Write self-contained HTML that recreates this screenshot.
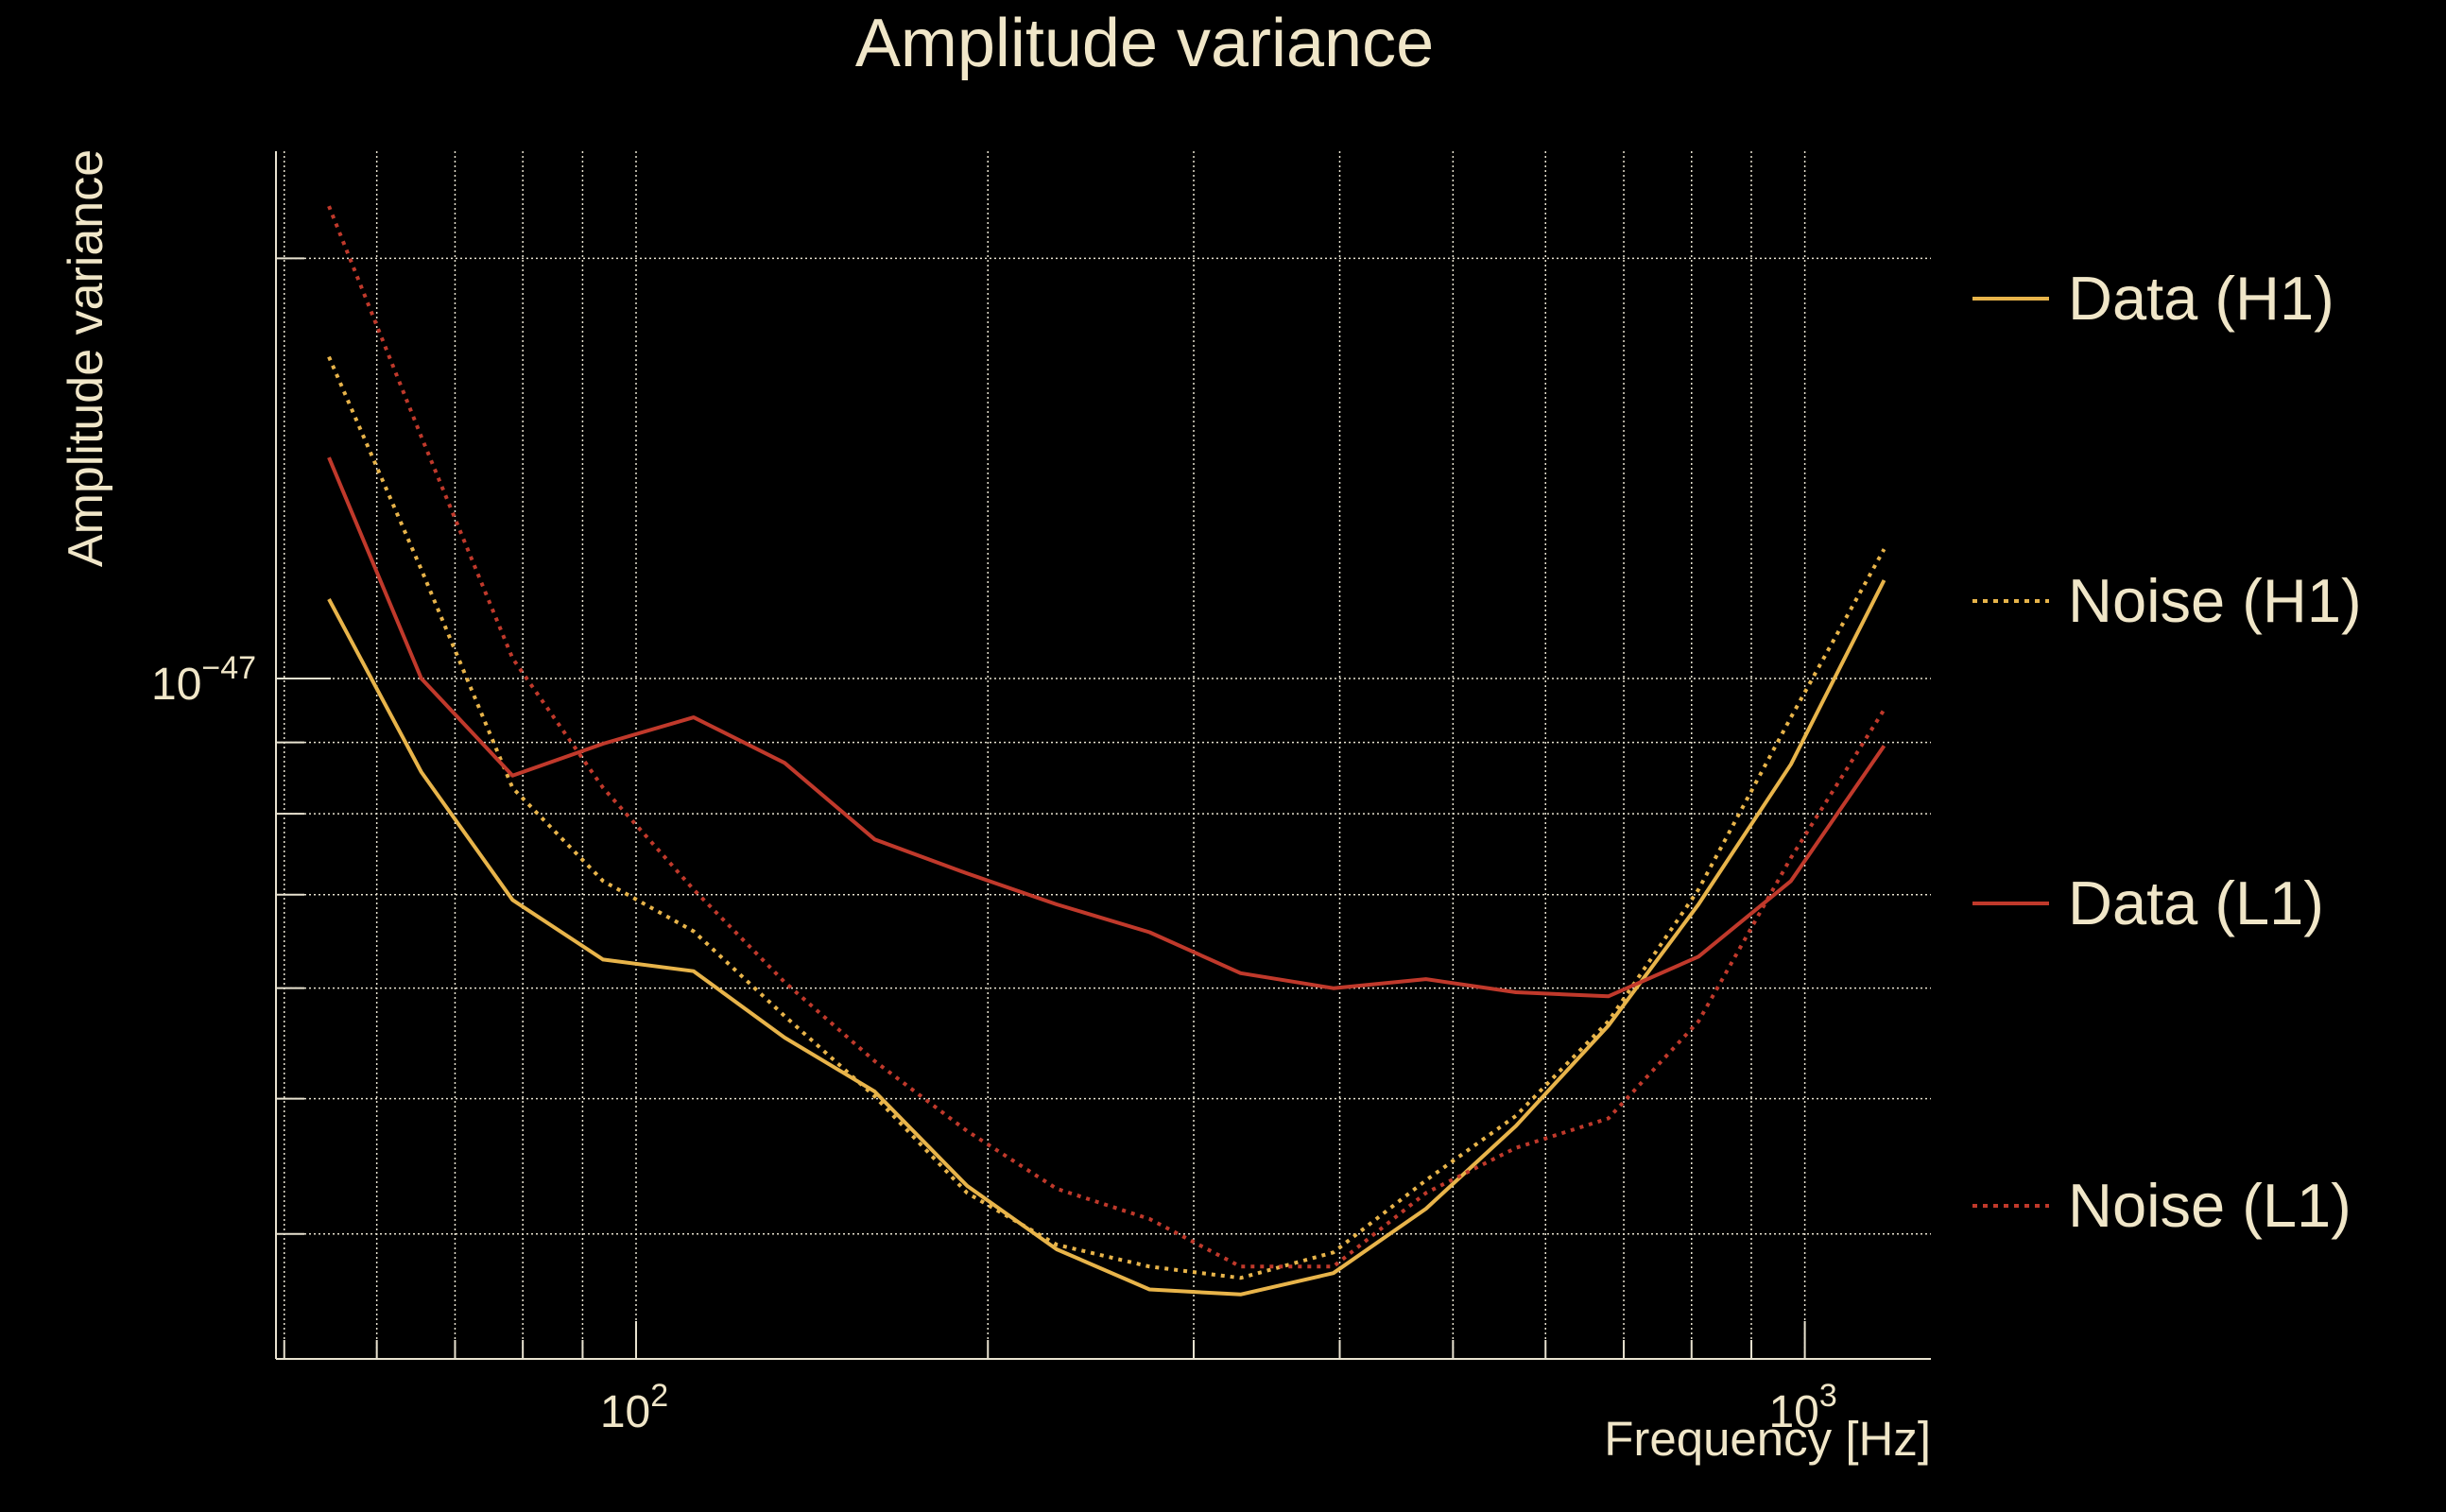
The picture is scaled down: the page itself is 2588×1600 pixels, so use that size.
<!DOCTYPE html>
<html><head><meta charset="utf-8"><style>
html,body{margin:0;padding:0;background:#000;}
svg{display:block;font-family:"Liberation Sans",sans-serif;}
</style></head><body>
<svg id="chart" width="2588" height="1600" viewBox="0 0 2588 1600">
<rect width="2588" height="1600" fill="#000"/>
<text x="1211" y="70" font-size="72" fill="#f0e6c8" text-anchor="middle">Amplitude variance</text>
<g id="grid"></g>
<g id="series"></g>
<g id="axes"></g>
<text transform="translate(108,379) rotate(-90)" font-size="52" fill="#f0e6c8" text-anchor="middle">Amplitude variance</text>
<text x="2043" y="1540" font-size="51" fill="#f0e6c8" text-anchor="end">Frequency [Hz]</text>
<g id="legend"></g>
</svg>
<script>
const freqs=[54.6,65.5,78.4,93.7,112,134,160,192,229,275,329,395,474,566,679,811,973,1169];
const dataH1=[11.4,8.57,6.94,6.29,6.17,5.53,5.06,4.33,3.90,3.65,3.62,3.75,4.17,4.78,5.64,6.89,8.68,11.76];
const noiseH1=[17.0,11.97,8.35,7.16,6.59,5.73,5.02,4.28,3.93,3.79,3.72,3.88,4.37,4.86,5.68,7.06,9.38,12.38];
const dataL1=[14.4,10.0,8.52,8.98,9.38,8.70,7.67,7.25,6.89,6.58,6.15,6.00,6.09,5.96,5.92,6.32,7.16,8.95];
const noiseL1=[21.8,14.9,10.34,8.35,7.06,6.06,5.32,4.74,4.31,4.10,3.79,3.79,4.28,4.61,4.84,5.68,7.44,9.50];
const seriesNames=["Data (H1)","Noise (H1)","Data (L1)","Noise (L1)"];
const xMajorTicks=[100,1000];
const xMinorTicks=[50,60,70,80,90,200,300,400,500,600,700,800,900];
const yTicks=[4,5,6,7,8,9,10,20];
const unit=1e-48;

const NS="http://www.w3.org/2000/svg";
const L=292,R=2043,T=160,B=1438;
function xs(f){return 673+(Math.log10(f)-2)*1236.6;}
function ys(v){return 718-(Math.log10(v*unit)+47)*1477;}
function mk(tag,attrs,parent){const e=document.createElementNS(NS,tag);for(const k in attrs)e.setAttribute(k,attrs[k]);parent.appendChild(e);return e;}
const grid=document.getElementById('grid'),axes=document.getElementById('axes'),ser=document.getElementById('series'),leg=document.getElementById('legend');
const gc="#e8e2d0";
xMajorTicks.concat(xMinorTicks).forEach(f=>{const x=xs(f);
 const l=mk('line',{x1:x,x2:x,y1:T,y2:B,stroke:gc,'stroke-width':1.5,'stroke-dasharray':'2 3'},grid);
 
 
 const t=mk('line',{x1:x,x2:x,y1:B,y2:B-(xMajorTicks.includes(f)?40:20),stroke:gc,'stroke-width':2},axes);
 
 
});
yTicks.forEach(v=>{const y=ys(v);
 const l=mk('line',{x1:L,x2:R,y1:y,y2:y,stroke:gc,'stroke-width':1.5,'stroke-dasharray':'2 3'},grid);
 
 
 const t=mk('line',{x1:L,x2:L+(v===10?58:30),y1:y,y2:y,stroke:gc,'stroke-width':2},axes);
 
 
});
const sp=mk('line',{x1:L,x2:L,y1:T,y2:B,stroke:gc,'stroke-width':2},axes);


const sp2=mk('line',{x1:L,x2:R,y1:B,y2:B,stroke:gc,'stroke-width':2},axes);


function expLabel(x,y,exp,anchor,name){
 const t=mk('text',{x:x,y:y,'font-size':48,fill:'#f0e6c8','text-anchor':anchor},axes);
 
 
 t.innerHTML='10<tspan dy="-22" font-size="34">'+exp+'</tspan>';
}
expLabel(xs(100)-2,1510,'2','middle','x-tick-label-100');
expLabel(xs(1000)-2,1510,'3','middle','x-tick-label-1000');
expLabel(160,740,'\u221247','start','y-tick-label-1e-47');
const defs=[[dataH1,'#e8b44a',null],[noiseH1,'#e8b44a','4 6'],[dataL1,'#c0392b',null],[noiseL1,'#c0392b','4 6']];
const names=['data-h1-line','noise-h1-line','data-l1-line','noise-l1-line'];
defs.forEach((d,i)=>{
 const pts=freqs.map((f,j)=>xs(f).toFixed(1)+','+ys(d[0][j]).toFixed(1)).join(' ');
 const a={points:pts,fill:'none',stroke:d[1],'stroke-width':4,'stroke-linejoin':'round'};
 if(d[2])a['stroke-dasharray']=d[2];
 const p=mk('polyline',a,ser);
 
 
 const ly=316+i*320;
 const g=mk('g',{},leg);
 
 
 const la={x1:2087,x2:2168,y1:ly,y2:ly,stroke:d[1],'stroke-width':4};
 if(d[2])la['stroke-dasharray']='5 6';
 mk('line',la,g);
 const tx=mk('text',{x:2188,y:ly+22,'font-size':65,fill:'#f0e6c8'},g);
 tx.textContent=seriesNames[i];
});
</script>
</body></html>
